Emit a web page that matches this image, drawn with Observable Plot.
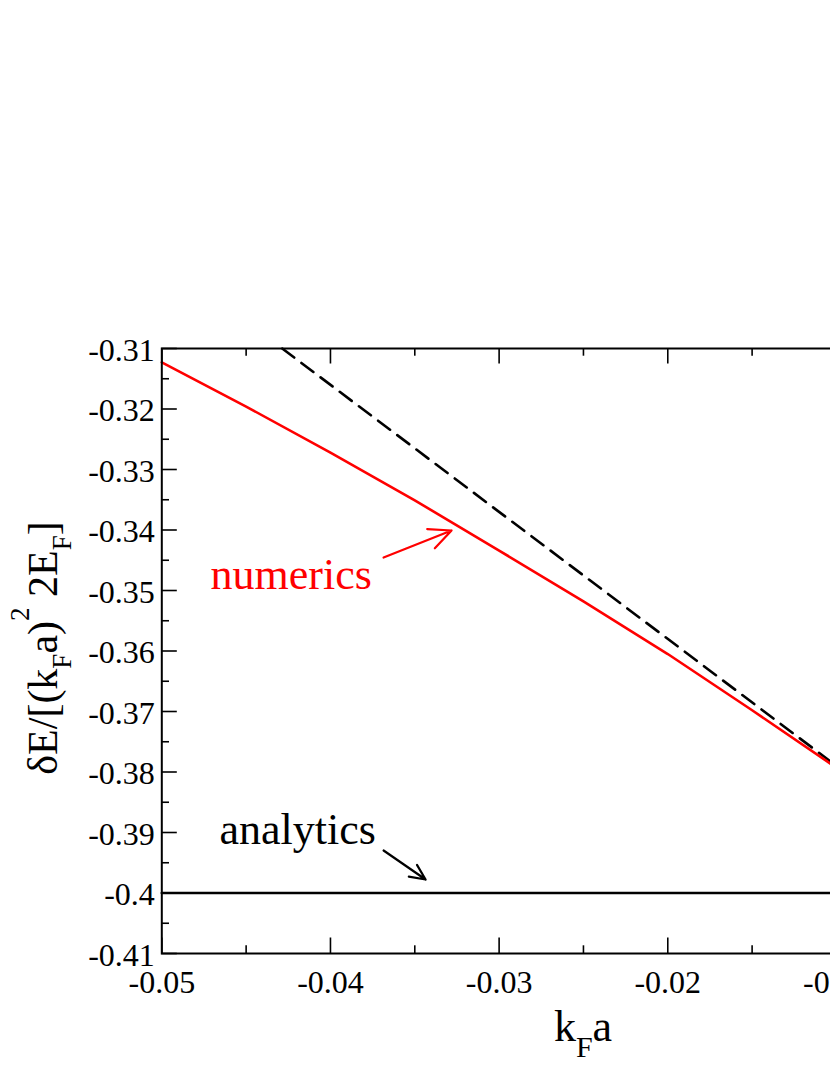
<!DOCTYPE html>
<html><head><meta charset="utf-8">
<script src="https://cdn.jsdelivr.net/npm/d3@7"></script>
<script src="https://cdn.jsdelivr.net/npm/@observablehq/plot@0.6"></script>
<style>
html,body{margin:0;padding:0;background:#fff;overflow:hidden;}
#chart{width:830px;height:1075px;overflow:hidden;}
</style></head><body><div id="chart"></div>
<script>
// numerics (red solid curve)
const numericsX = [-0.05, -0.045, -0.04, -0.035, -0.03, -0.025, -0.02, -0.015, -0.01, -0.005, 0];
const numericsY = [-0.3123, -0.3196, -0.3272, -0.3351, -0.3434, -0.3518, -0.3605, -0.3698, -0.3793, -0.3893, -0.3995];
// linear expansion (black dashed)
const expansionX = [-0.04286, 0];
const expansionY = [-0.31, -0.40];
// analytics (black solid)
const analyticsX = [-0.05, 0];
const analyticsY = [-0.40, -0.40];
// ticks
const xMajorTicks = [-0.05, -0.04, -0.03, -0.02, -0.01, 0];
const xMinorTicks = [-0.045, -0.035, -0.025, -0.015, -0.005];
const yMajorTicks = [-0.41, -0.40, -0.39, -0.38, -0.37, -0.36, -0.35, -0.34, -0.33, -0.32, -0.31];
const yMinorTicks = [-0.405, -0.395, -0.385, -0.375, -0.365, -0.355, -0.345, -0.335, -0.325, -0.315];
// annotations
const annotationLabels = ["numerics", "analytics"];
const annotationColors = ["#ff0000", "#000000"];
const annotationX = [-0.04711, -0.04658];
const annotationY = [-0.34967, -0.39182];
const arrowX1 = [-0.03685, -0.03685];
const arrowY1 = [-0.34455, -0.39298];
const arrowX2 = [-0.03282, -0.03436];
const arrowY2 = [-0.34008, -0.39777];

const numerics = numericsX.map((x, i) => ({x, y: numericsY[i]}));
const expansion = expansionX.map((x, i) => ({x, y: expansionY[i]}));
const analytics = analyticsX.map((x, i) => ({x, y: analyticsY[i]}));
const annots = annotationLabels.map((t, i) => ({t, c: annotationColors[i], x: annotationX[i], y: annotationY[i],
  x1: arrowX1[i], y1: arrowY1[i], x2: arrowX2[i], y2: arrowY2[i]}));

const W = 1060, H = 1075;
const mL = 161.3, mR = W - 1004.6, mT = 348, mB = H - 953;
const pw = W - mL - mR, ph = H - mT - mB;
const fmt = d => String(Math.round(d * 1000) / 1000);
const font = "'Liberation Serif', 'Times New Roman', Times, serif";
const majorLen = 15.5, minorLen = 7.7;
const tickStyle = {stroke: "black", strokeWidth: 1.6};

const plot = Plot.plot({
  width: W, height: H,
  marginLeft: mL, marginRight: mR, marginTop: mT, marginBottom: mB,
  style: {fontFamily: font, fontSize: "32px", background: "white", maxWidth: "none", color: "black"},
  x: {domain: [-0.05, 0], label: null},
  y: {domain: [-0.41, -0.31], label: null},
  marks: [
    Plot.line(analytics, {x: "x", y: "y", stroke: "black", strokeWidth: 2.6}),
    Plot.line(expansion, {x: "x", y: "y", stroke: "black", strokeWidth: 2.6, strokeDasharray: "15,9"}),
    Plot.line(numerics, {x: "x", y: "y", stroke: "#ff0000", strokeWidth: 2.6}),
    Plot.ruleX(xMajorTicks, {x: d => d, insetTop: ph - majorLen, ...tickStyle}),
    Plot.ruleX(xMajorTicks, {x: d => d, insetBottom: ph - majorLen, ...tickStyle}),
    Plot.ruleX(xMinorTicks, {x: d => d, insetTop: ph - minorLen, ...tickStyle}),
    Plot.ruleX(xMinorTicks, {x: d => d, insetBottom: ph - minorLen, ...tickStyle}),
    Plot.ruleY(yMajorTicks, {y: d => d, insetRight: pw - majorLen, ...tickStyle}),
    Plot.ruleY(yMajorTicks, {y: d => d, insetLeft: pw - majorLen, ...tickStyle}),
    Plot.ruleY(yMinorTicks, {y: d => d, insetRight: pw - minorLen, ...tickStyle}),
    Plot.ruleY(yMinorTicks, {y: d => d, insetLeft: pw - minorLen, ...tickStyle}),
    Plot.frame({stroke: "black", strokeWidth: 2}),
    Plot.axisX(xMajorTicks, {tickSize: 0, tickPadding: 17, tickFormat: fmt, label: null, fontSize: 32}),
    Plot.axisY(yMajorTicks, {tickSize: 0, tickPadding: 7, tickFormat: fmt, label: null, fontSize: 32, dy: 2}),
    Plot.arrow(annots, {x1: "x1", y1: "y1", x2: "x2", y2: "y2", stroke: "c", strokeWidth: 2.2, headLength: 18, headAngle: 50}),
    Plot.text(annots, {x: "x", y: "y", text: "t", fill: "c", textAnchor: "start", lineAnchor: "bottom", fontSize: 44})
  ]
});
document.getElementById("chart").appendChild(plot);

const svg = d3.select(plot);
// x axis label: k_F a
const xl = svg.append("text")
  .attr("x", 583).attr("y", 1041)
  .attr("text-anchor", "middle")
  .attr("font-family", font).attr("font-size", 44).attr("fill", "black");
xl.append("tspan").text("k");
xl.append("tspan").attr("font-size", 30).attr("dy", 16).text("F");
xl.append("tspan").attr("dy", -16).text("a");

// y axis label: δE/[(k_F a)^2 2E_F]
const yl = svg.append("text")
  .attr("transform", "translate(57,648) rotate(-90)")
  .attr("text-anchor", "middle")
  .attr("font-family", font).attr("font-size", 42).attr("fill", "black")
  .style("white-space", "pre");
yl.append("tspan").text("δE/[(k");
yl.append("tspan").attr("font-size", 27).attr("dy", 14).text("F");
yl.append("tspan").attr("dy", -14).text("a)");
yl.append("tspan").attr("font-size", 27).attr("dy", -28).text("2");
yl.append("tspan").attr("dy", 28).text(" 2E");
yl.append("tspan").attr("font-size", 27).attr("dy", 14).text("F");
yl.append("tspan").attr("dy", -14).text("]");
</script>
</body></html>
